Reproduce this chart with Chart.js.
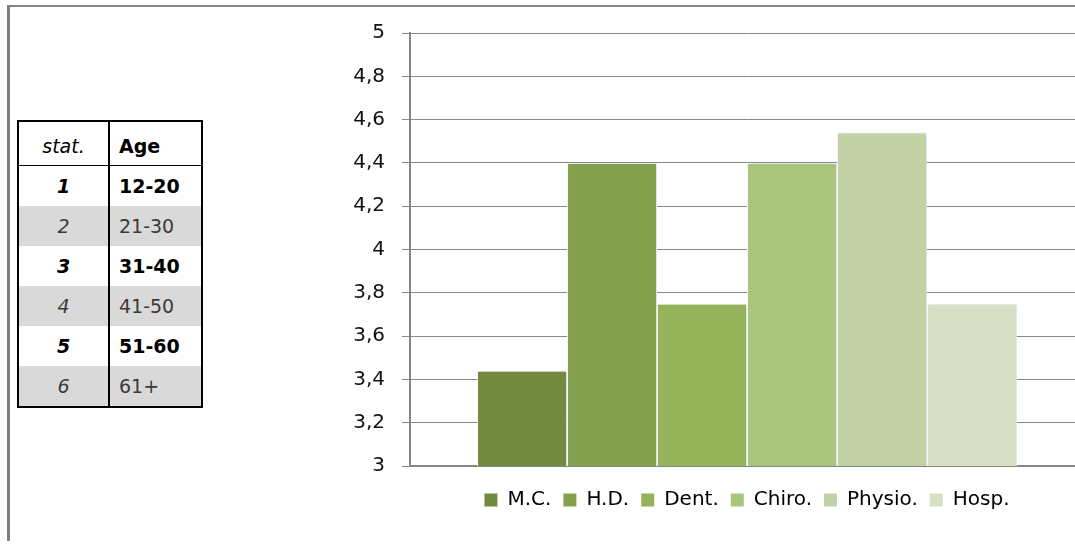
<!DOCTYPE html>
<html>
<head>
<meta charset="utf-8">
<script src="https://cdn.jsdelivr.net/npm/chart.js@4"></script>
<style>
  body { margin: 0; width: 1075px; height: 546px; overflow: hidden; background: #fff; position: relative; font-family: "DejaVu Sans", sans-serif; }
  .frame-top { position: absolute; left: 8px; top: 5px; width: 1080px; height: 0; border-top: 2px solid #868686; }
  .frame-left { position: absolute; left: 7px; top: 5px; width: 3px; height: 536px; background: #7f7f7f; }
  table.ages { position: absolute; left: 17px; top: 120px; border-collapse: collapse; border: 2px solid #000; font-size: 19px; }
  table.ages td { height: 40px; padding: 0; border-left: 2px solid #000; }
  table.ages td:first-child { width: 89px; text-align: center; font-style: italic; border-left: none; }
  table.ages td:last-child { width: 82px; padding-left: 9px; }
  table.ages tr.head td { height: 44px; padding-top: 6px; box-sizing: border-box; border-bottom: 1px solid #000; }
  table.ages tr.head td:last-child { font-weight: bold; }
  table.ages tr.odd td { font-weight: bold; color: #000; }
  table.ages tr.even td { background: #d9d9d9; color: #3a3a3a; }
  .chart-box { position: absolute; left: 330px; top: 10px; width: 760px; height: 530px; }
</style>
</head>
<body>
<div class="frame-top"></div>
<div class="frame-left"></div>

<table class="ages">
  <tr class="head"><td>stat.</td><td>Age</td></tr>
  <tr class="odd"><td>1</td><td>12-20</td></tr>
  <tr class="even"><td>2</td><td>21-30</td></tr>
  <tr class="odd"><td>3</td><td>31-40</td></tr>
  <tr class="even"><td>4</td><td>41-50</td></tr>
  <tr class="odd"><td>5</td><td>51-60</td></tr>
  <tr class="even"><td>6</td><td>61+</td></tr>
</table>

<div class="chart-box"><canvas id="scoreChart"></canvas></div>

<script>
// Average score per service
const services = ['M.C.', 'H.D.', 'Dent.', 'Chiro.', 'Physio.', 'Hosp.'];
const scores = [3.44, 4.4, 3.75, 4.4, 4.54, 3.75];
const colors = ['#72893f', '#84a04c', '#95b35a', '#a9c47c', '#c2d2a4', '#d7e0c4'];

const FONT = 'DejaVu Sans';
const AXIS_GREY = '#868686';

// soft glow round the bars
const barShadow = {
    id: 'barShadow',
    beforeDatasetsDraw(chart) {
        const c = chart.ctx;
        c.save();
        c.shadowColor = 'rgba(0, 0, 0, 0.18)';
        c.shadowBlur = 4;
        c.shadowOffsetX = 1;
        c.shadowOffsetY = 0;
    },
    afterDatasetsDraw(chart) {
        chart.ctx.restore();
    }
};

const scoreCtx = document.getElementById('scoreChart').getContext('2d');
const scoreChart = new Chart(scoreCtx, {
    type: 'bar',
    data: {
        labels: [''],
        datasets: services.map((name, i) => ({
            label: name,
            data: [scores[i]],
            backgroundColor: colors[i],
            borderColor: '#ffffff',
            borderWidth: 1
        }))
    },
    options: {
        responsive: true,
        maintainAspectRatio: false,
        animation: false,
        layout: {
            padding: { top: 23, right: 6, bottom: 20, left: 0 }
        },
        datasets: {
            bar: {
                categoryPercentage: 0.801,
                barPercentage: 1
            }
        },
        plugins: {
            tooltip: { enabled: false },
            legend: {
                position: 'bottom',
                fullSize: false,
                labels: {
                    boxWidth: 13,
                    boxHeight: 13,
                    padding: 12,
                    color: '#000',
                    font: { family: FONT, size: 20 },
                    generateLabels(chart) {
                        return Chart.defaults.plugins.legend.labels.generateLabels(chart)
                            .map(l => ({ ...l, lineWidth: 0 }));
                    }
                }
            }
        },
        scales: {
            y: {
                min: 3,
                max: 5,
                ticks: {
                    stepSize: 0.2,
                    padding: 17,
                    color: '#111',
                    font: { family: FONT, size: 20 },
                    callback: v => String(Number(v.toFixed(1))).replace('.', ',')
                },
                grid: {
                    color: AXIS_GREY,
                    lineWidth: 1,
                    tickLength: 8
                },
                border: { color: AXIS_GREY, width: 2 },
                afterFit(scale) {
                    scale.width = 80;
                    scale.paddingTop = 0;
                    scale.paddingBottom = 0;
                }
            },
            x: {
                ticks: { display: false },
                grid: { display: false },
                border: { color: AXIS_GREY, width: 2 },
                afterFit(scale) {
                    scale.height = 12;
                }
            }
        }
    },
    plugins: [barShadow]
});
</script>
</body>
</html>
